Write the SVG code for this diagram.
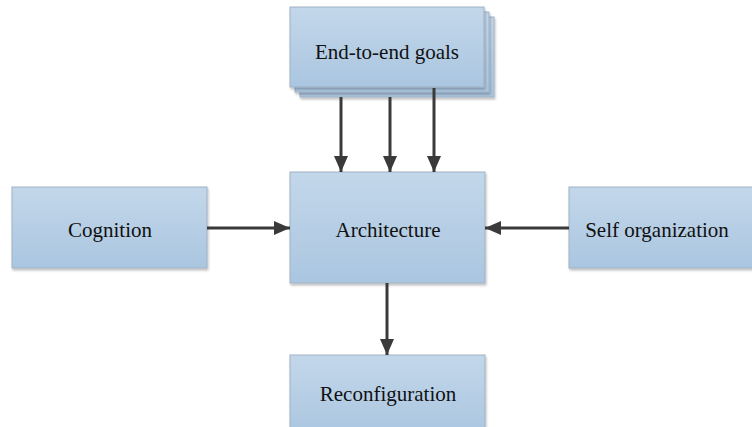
<svg xmlns="http://www.w3.org/2000/svg" width="752" height="427" viewBox="0 0 752 427">
<defs>
<linearGradient id="g" x1="0" y1="0" x2="0" y2="1">
<stop offset="0" stop-color="#c3d7ea"/>
<stop offset="1" stop-color="#aac6e0"/>
</linearGradient>
<marker id="ah" markerWidth="16" markerHeight="14" refX="16" refY="7" orient="auto" markerUnits="userSpaceOnUse">
<path d="M0,0 L16,7 L0,14 Z" fill="#3a3a3a"/>
</marker>
<filter id="sh" x="-10%" y="-10%" width="120%" height="130%">
<feDropShadow dx="1" dy="2" stdDeviation="1.2" flood-color="#000" flood-opacity="0.25"/>
</filter>
</defs>
<style>
.box{fill:url(#g);stroke:#9fb1c4;stroke-width:1;filter:url(#sh)}
.lbl{font-family:'Times New Roman','Liberation Serif',Times,serif;font-size:21px;fill:#111;text-anchor:middle}
.con{stroke:#3a3a3a;stroke-width:3;fill:none;marker-end:url(#ah)}
</style>
<rect width="752" height="427" fill="#fff"/>
<g id="goals">
<rect class="box" x="300" y="17" width="194" height="80"/>
<rect class="box" x="295" y="12" width="194" height="80"/>
<rect class="box" x="290" y="7" width="194" height="80"/>
<text class="lbl" x="387" y="59">End-to-end goals</text>
</g>
<g id="cognition">
<rect class="box" x="12" y="187" width="195" height="81"/>
<text class="lbl" x="110" y="237">Cognition</text>
</g>
<g id="architecture">
<rect class="box" x="290" y="172" width="195" height="111"/>
<text class="lbl" x="388" y="237">Architecture</text>
</g>
<g id="selforg">
<rect class="box" x="569" y="187" width="190" height="81"/>
<text class="lbl" x="657" y="237">Self organization</text>
</g>
<g id="reconfiguration">
<rect class="box" x="290" y="355" width="195" height="80"/>
<text class="lbl" x="388" y="401">Reconfiguration</text>
</g>
<g id="connectors">
<line class="con" x1="341" y1="97" x2="341" y2="172"/>
<line class="con" x1="390" y1="97" x2="390" y2="172"/>
<line class="con" x1="434" y1="88" x2="434" y2="172"/>
<line class="con" x1="207" y1="228" x2="290" y2="228"/>
<line class="con" x1="569" y1="228" x2="485" y2="228"/>
<line class="con" x1="387" y1="283" x2="387" y2="355"/>
</g>
</svg>
